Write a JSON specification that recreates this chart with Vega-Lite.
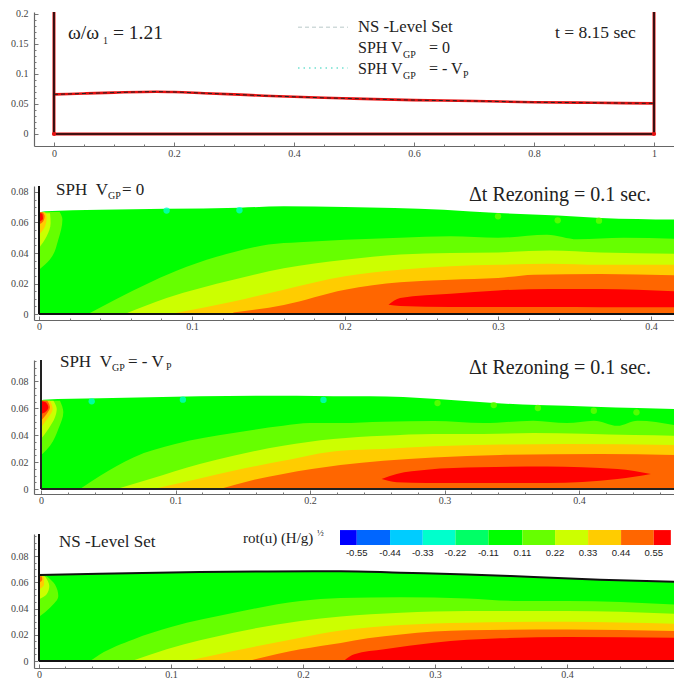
{"$schema":"https://vega.github.io/schema/vega-lite/v6.json","padding":{"left":10,"top":6,"right":0,"bottom":0},"background":"white","bounds":"flush","spacing":40,"config":{"view":{"stroke":null},"axis":{"grid":false,"title":null,"domainColor":"#666","tickColor":"#777","labelColor":"#444","labelFont":"Liberation Serif","labelFontSize":10,"domainWidth":1.2,"tickWidth":1},"text":{"font":"Liberation Serif","align":"left","baseline":"alphabetic","color":"#222"}},
"datasets":{
"curve":[{"x":0,"y":0.066},{"x":0.05,"y":0.0675},{"x":0.1,"y":0.069},{"x":0.17,"y":0.0705},{"x":0.2,"y":0.07},{"x":0.25,"y":0.068},{"x":0.3,"y":0.066},{"x":0.35,"y":0.0638},{"x":0.4,"y":0.062},{"x":0.45,"y":0.0603},{"x":0.5,"y":0.059},{"x":0.6,"y":0.0565},{"x":0.7,"y":0.055},{"x":0.8,"y":0.053},{"x":0.9,"y":0.052},{"x":1,"y":0.051}],
"walls":[{"p":1,"s":"l","x":0,"y":0},{"p":1,"s":"l","x":0,"y":0.2033},{"p":1,"s":"b","x":0,"y":0},{"p":1,"s":"b","x":1,"y":0},{"p":1,"s":"r","x":1,"y":0},{"p":1,"s":"r","x":1,"y":0.2033},
{"p":2,"s":"l","x":0,"y":0},{"p":2,"s":"l","x":0,"y":0.0839},{"p":2,"s":"b","x":0,"y":0},{"p":2,"s":"b","x":0.415,"y":0},
{"p":3,"s":"l","x":0,"y":0},{"p":3,"s":"l","x":0,"y":0.0959},{"p":3,"s":"b","x":0,"y":0},{"p":3,"s":"b","x":0.4706,"y":0},
{"p":4,"s":"l","x":0,"y":0},{"p":4,"s":"l","x":0,"y":0.0968},{"p":4,"s":"b","x":0,"y":0},{"p":4,"s":"b","x":0.481,"y":0}],
"bands":[
{"p":5,"l":-0.6,"x":0.228,"y":0.0998,"y0":0.0884},{"p":5,"l":-0.6,"x":0.2407,"y":0.0998,"y0":0.0884},{"p":5,"l":-0.5,"x":0.2407,"y":0.0998,"y0":0.0884},{"p":5,"l":-0.5,"x":0.2659,"y":0.0998,"y0":0.0884},{"p":5,"l":-0.4,"x":0.2659,"y":0.0998,"y0":0.0884},{"p":5,"l":-0.4,"x":0.2907,"y":0.0998,"y0":0.0884},{"p":5,"l":-0.3,"x":0.2907,"y":0.0998,"y0":0.0884},{"p":5,"l":-0.3,"x":0.3154,"y":0.0998,"y0":0.0884},{"p":5,"l":-0.2,"x":0.3154,"y":0.0998,"y0":0.0884},{"p":5,"l":-0.2,"x":0.3404,"y":0.0998,"y0":0.0884},{"p":5,"l":0,"x":0.3404,"y":0.0998,"y0":0.0884},{"p":5,"l":0,"x":0.3661,"y":0.0998,"y0":0.0884},{"p":5,"l":0.165,"x":0.3661,"y":0.0998,"y0":0.0884},{"p":5,"l":0.165,"x":0.3909,"y":0.0998,"y0":0.0884},{"p":5,"l":0.275,"x":0.3909,"y":0.0998,"y0":0.0884},{"p":5,"l":0.275,"x":0.4159,"y":0.0998,"y0":0.0884},{"p":5,"l":0.385,"x":0.4159,"y":0.0998,"y0":0.0884},{"p":5,"l":0.385,"x":0.4409,"y":0.0998,"y0":0.0884},{"p":5,"l":0.495,"x":0.4409,"y":0.0998,"y0":0.0884},{"p":5,"l":0.495,"x":0.4657,"y":0.0998,"y0":0.0884},{"p":5,"l":0.6,"x":0.4657,"y":0.0998,"y0":0.0884},{"p":5,"l":0.6,"x":0.4786,"y":0.0998,"y0":0.0884},
{"p":2,"l":0,"x":0,"y":0.0665,"y0":0},{"p":2,"l":0,"x":0.004,"y":0.0673,"y0":0},{"p":2,"l":0,"x":0.04,"y":0.0684,"y0":0},{"p":2,"l":0,"x":0.0834,"y":0.069,"y0":0},{"p":2,"l":0,"x":0.131,"y":0.0697,"y0":0},{"p":2,"l":0,"x":0.16,"y":0.0706,"y0":0},{"p":2,"l":0,"x":0.2,"y":0.0702,"y0":0},{"p":2,"l":0,"x":0.2645,"y":0.0684,"y0":0},{"p":2,"l":0,"x":0.3,"y":0.0662,"y0":0},{"p":2,"l":0,"x":0.339,"y":0.0645,"y0":0},{"p":2,"l":0,"x":0.367,"y":0.063,"y0":0},{"p":2,"l":0,"x":0.415,"y":0.0619,"y0":0},
{"p":2,"l":0.165,"x":0.032,"y":0,"y0":0},{"p":2,"l":0.165,"x":0.05,"y":0.0095,"y0":0},{"p":2,"l":0.165,"x":0.0965,"y":0.031,"y0":0},{"p":2,"l":0.165,"x":0.127,"y":0.0405,"y0":0},{"p":2,"l":0.165,"x":0.15,"y":0.0455,"y0":0},{"p":2,"l":0.165,"x":0.17,"y":0.047,"y0":0},{"p":2,"l":0.165,"x":0.2,"y":0.0487,"y0":0},{"p":2,"l":0.165,"x":0.236,"y":0.05,"y0":0},{"p":2,"l":0.165,"x":0.269,"y":0.051,"y0":0},{"p":2,"l":0.165,"x":0.3,"y":0.05,"y0":0},{"p":2,"l":0.165,"x":0.332,"y":0.052,"y0":0},{"p":2,"l":0.165,"x":0.352,"y":0.049,"y0":0},{"p":2,"l":0.165,"x":0.382,"y":0.05,"y0":0},{"p":2,"l":0.165,"x":0.415,"y":0.0494,"y0":0},
{"p":2,"l":0.275,"x":0.056,"y":0,"y0":0},{"p":2,"l":0.275,"x":0.0834,"y":0.0105,"y0":0},{"p":2,"l":0.275,"x":0.127,"y":0.0225,"y0":0},{"p":2,"l":0.275,"x":0.16,"y":0.03,"y0":0},{"p":2,"l":0.275,"x":0.2,"y":0.0356,"y0":0},{"p":2,"l":0.275,"x":0.236,"y":0.039,"y0":0},{"p":2,"l":0.275,"x":0.269,"y":0.04,"y0":0},{"p":2,"l":0.275,"x":0.3,"y":0.0404,"y0":0},{"p":2,"l":0.275,"x":0.334,"y":0.0417,"y0":0},{"p":2,"l":0.275,"x":0.367,"y":0.0404,"y0":0},{"p":2,"l":0.275,"x":0.415,"y":0.0395,"y0":0},
{"p":2,"l":0.385,"x":0.0856,"y":0,"y0":0},{"p":2,"l":0.385,"x":0.127,"y":0.0083,"y0":0},{"p":2,"l":0.385,"x":0.16,"y":0.016,"y0":0},{"p":2,"l":0.385,"x":0.2,"y":0.0247,"y0":0},{"p":2,"l":0.385,"x":0.236,"y":0.029,"y0":0},{"p":2,"l":0.385,"x":0.269,"y":0.0313,"y0":0},{"p":2,"l":0.385,"x":0.3,"y":0.0323,"y0":0},{"p":2,"l":0.385,"x":0.334,"y":0.033,"y0":0},{"p":2,"l":0.385,"x":0.367,"y":0.0323,"y0":0},{"p":2,"l":0.385,"x":0.415,"y":0.0323,"y0":0},
{"p":2,"l":0.495,"x":0.127,"y":0.001,"y0":0},{"p":2,"l":0.495,"x":0.16,"y":0.006,"y0":0},{"p":2,"l":0.495,"x":0.2,"y":0.016,"y0":0},{"p":2,"l":0.495,"x":0.236,"y":0.0208,"y0":0},{"p":2,"l":0.495,"x":0.269,"y":0.0225,"y0":0},{"p":2,"l":0.495,"x":0.3,"y":0.0236,"y0":0},{"p":2,"l":0.495,"x":0.3235,"y":0.0258,"y0":0},{"p":2,"l":0.495,"x":0.367,"y":0.0262,"y0":0},{"p":2,"l":0.495,"x":0.415,"y":0.0254,"y0":0},
{"p":2,"l":0.6,"x":0.2284,"y":0.0061,"y0":0.0061},{"p":2,"l":0.6,"x":0.236,"y":0.0105,"y0":0.0052},{"p":2,"l":0.6,"x":0.269,"y":0.0133,"y0":0.0046},{"p":2,"l":0.6,"x":0.3,"y":0.0155,"y0":0.0046},{"p":2,"l":0.6,"x":0.334,"y":0.0164,"y0":0.0046},{"p":2,"l":0.6,"x":0.367,"y":0.0164,"y0":0.0045},{"p":2,"l":0.6,"x":0.415,"y":0.0149,"y0":0.0045},
{"p":3,"l":0,"x":0,"y":0.066,"y0":0},{"p":3,"l":0,"x":0.0017,"y":0.0664,"y0":0},{"p":3,"l":0,"x":0.044,"y":0.0674,"y0":0},{"p":3,"l":0,"x":0.118,"y":0.0689,"y0":0},{"p":3,"l":0,"x":0.19,"y":0.0694,"y0":0},{"p":3,"l":0,"x":0.2172,"y":0.0689,"y0":0},{"p":3,"l":0,"x":0.2445,"y":0.0689,"y0":0},{"p":3,"l":0,"x":0.2943,"y":0.0669,"y0":0},{"p":3,"l":0,"x":0.3366,"y":0.0639,"y0":0},{"p":3,"l":0,"x":0.369,"y":0.0624,"y0":0},{"p":3,"l":0,"x":0.411,"y":0.0612,"y0":0},{"p":3,"l":0,"x":0.4435,"y":0.0602,"y0":0},{"p":3,"l":0,"x":0.4706,"y":0.0595,"y0":0},
{"p":3,"l":0.165,"x":0.029,"y":0,"y0":0},{"p":3,"l":0.165,"x":0.044,"y":0.0099,"y0":0},{"p":3,"l":0.165,"x":0.0687,"y":0.0235,"y0":0},{"p":3,"l":0.165,"x":0.0998,"y":0.0334,"y0":0},{"p":3,"l":0.165,"x":0.143,"y":0.0416,"y0":0},{"p":3,"l":0.165,"x":0.18,"y":0.047,"y0":0},{"p":3,"l":0.165,"x":0.2,"y":0.049,"y0":0},{"p":3,"l":0.165,"x":0.2226,"y":0.049,"y0":0},{"p":3,"l":0.165,"x":0.2545,"y":0.05,"y0":0},{"p":3,"l":0.165,"x":0.292,"y":0.0505,"y0":0},{"p":3,"l":0.165,"x":0.329,"y":0.049,"y0":0},{"p":3,"l":0.165,"x":0.366,"y":0.0508,"y0":0},{"p":3,"l":0.165,"x":0.391,"y":0.049,"y0":0},{"p":3,"l":0.165,"x":0.411,"y":0.0508,"y0":0},{"p":3,"l":0.165,"x":0.4286,"y":0.047,"y0":0},{"p":3,"l":0.165,"x":0.4435,"y":0.0508,"y0":0},{"p":3,"l":0.165,"x":0.4706,"y":0.0476,"y0":0},
{"p":3,"l":0.275,"x":0.0563,"y":0,"y0":0},{"p":3,"l":0.275,"x":0.081,"y":0.0074,"y0":0},{"p":3,"l":0.275,"x":0.118,"y":0.0186,"y0":0},{"p":3,"l":0.275,"x":0.143,"y":0.0248,"y0":0},{"p":3,"l":0.275,"x":0.18,"y":0.0322,"y0":0},{"p":3,"l":0.275,"x":0.2172,"y":0.0372,"y0":0},{"p":3,"l":0.275,"x":0.2545,"y":0.0396,"y0":0},{"p":3,"l":0.275,"x":0.292,"y":0.0409,"y0":0},{"p":3,"l":0.275,"x":0.329,"y":0.0409,"y0":0},{"p":3,"l":0.275,"x":0.366,"y":0.0416,"y0":0},{"p":3,"l":0.275,"x":0.441,"y":0.0401,"y0":0},{"p":3,"l":0.275,"x":0.4706,"y":0.0396,"y0":0},
{"p":3,"l":0.385,"x":0.0836,"y":0,"y0":0},{"p":3,"l":0.385,"x":0.118,"y":0.0079,"y0":0},{"p":3,"l":0.385,"x":0.143,"y":0.0136,"y0":0},{"p":3,"l":0.385,"x":0.18,"y":0.021,"y0":0},{"p":3,"l":0.385,"x":0.2226,"y":0.0285,"y0":0},{"p":3,"l":0.385,"x":0.2545,"y":0.0297,"y0":0},{"p":3,"l":0.385,"x":0.292,"y":0.0317,"y0":0},{"p":3,"l":0.385,"x":0.3415,"y":0.033,"y0":0},{"p":3,"l":0.385,"x":0.391,"y":0.0335,"y0":0},{"p":3,"l":0.385,"x":0.4706,"y":0.0327,"y0":0},
{"p":3,"l":0.495,"x":0.133,"y":0,"y0":0},{"p":3,"l":0.495,"x":0.1556,"y":0.0062,"y0":0},{"p":3,"l":0.495,"x":0.18,"y":0.0112,"y0":0},{"p":3,"l":0.495,"x":0.2226,"y":0.0178,"y0":0},{"p":3,"l":0.495,"x":0.2545,"y":0.021,"y0":0},{"p":3,"l":0.495,"x":0.292,"y":0.0235,"y0":0},{"p":3,"l":0.495,"x":0.3415,"y":0.0253,"y0":0},{"p":3,"l":0.495,"x":0.416,"y":0.026,"y0":0},{"p":3,"l":0.495,"x":0.4706,"y":0.0253,"y0":0},
{"p":3,"l":0.6,"x":0.2532,"y":0.0074,"y0":0.0074},{"p":3,"l":0.6,"x":0.2644,"y":0.0112,"y0":0.005},{"p":3,"l":0.6,"x":0.2868,"y":0.0144,"y0":0.0045},{"p":3,"l":0.6,"x":0.3266,"y":0.0161,"y0":0.0045},{"p":3,"l":0.6,"x":0.3764,"y":0.0168,"y0":0.0045},{"p":3,"l":0.6,"x":0.4286,"y":0.0149,"y0":0.0074},{"p":3,"l":0.6,"x":0.4535,"y":0.0112,"y0":0.0112},
{"p":4,"l":0,"x":0,"y":0.0655,"y0":0},{"p":4,"l":0,"x":0.046,"y":0.0665,"y0":0},{"p":4,"l":0,"x":0.122,"y":0.0678,"y0":0},{"p":4,"l":0,"x":0.173,"y":0.0683,"y0":0},{"p":4,"l":0,"x":0.2286,"y":0.0685,"y0":0},{"p":4,"l":0,"x":0.274,"y":0.0673,"y0":0},{"p":4,"l":0,"x":0.3244,"y":0.066,"y0":0},{"p":4,"l":0,"x":0.3748,"y":0.064,"y0":0},{"p":4,"l":0,"x":0.425,"y":0.062,"y0":0},{"p":4,"l":0,"x":0.481,"y":0.0604,"y0":0},
{"p":4,"l":0.165,"x":0.0387,"y":0,"y0":0},{"p":4,"l":0.165,"x":0.046,"y":0.005,"y0":0},{"p":4,"l":0.165,"x":0.0714,"y":0.0165,"y0":0},{"p":4,"l":0.165,"x":0.1,"y":0.0259,"y0":0},{"p":4,"l":0.165,"x":0.1476,"y":0.0368,"y0":0},{"p":4,"l":0.165,"x":0.198,"y":0.0457,"y0":0},{"p":4,"l":0.165,"x":0.2286,"y":0.048,"y0":0},{"p":4,"l":0.165,"x":0.274,"y":0.0487,"y0":0},{"p":4,"l":0.165,"x":0.3244,"y":0.0477,"y0":0},{"p":4,"l":0.165,"x":0.365,"y":0.0457,"y0":0},{"p":4,"l":0.165,"x":0.4,"y":0.0457,"y0":0},{"p":4,"l":0.165,"x":0.481,"y":0.0431,"y0":0},
{"p":4,"l":0.275,"x":0.0702,"y":0,"y0":0},{"p":4,"l":0.275,"x":0.0967,"y":0.0089,"y0":0},{"p":4,"l":0.275,"x":0.1472,"y":0.0216,"y0":0},{"p":4,"l":0.275,"x":0.198,"y":0.0305,"y0":0},{"p":4,"l":0.275,"x":0.2286,"y":0.034,"y0":0},{"p":4,"l":0.275,"x":0.274,"y":0.0368,"y0":0},{"p":4,"l":0.275,"x":0.3244,"y":0.0381,"y0":0},{"p":4,"l":0.275,"x":0.4,"y":0.0381,"y0":0},{"p":4,"l":0.275,"x":0.481,"y":0.036,"y0":0},
{"p":4,"l":0.385,"x":0.112,"y":0,"y0":0},{"p":4,"l":0.385,"x":0.1472,"y":0.0076,"y0":0},{"p":4,"l":0.385,"x":0.198,"y":0.0178,"y0":0},{"p":4,"l":0.385,"x":0.2286,"y":0.0232,"y0":0},{"p":4,"l":0.385,"x":0.274,"y":0.0274,"y0":0},{"p":4,"l":0.385,"x":0.3244,"y":0.0292,"y0":0},{"p":4,"l":0.385,"x":0.4,"y":0.03,"y0":0},{"p":4,"l":0.385,"x":0.481,"y":0.0284,"y0":0},
{"p":4,"l":0.495,"x":0.16,"y":0.0005,"y0":0},{"p":4,"l":0.495,"x":0.198,"y":0.0089,"y0":0},{"p":4,"l":0.495,"x":0.2286,"y":0.0138,"y0":0},{"p":4,"l":0.495,"x":0.249,"y":0.0173,"y0":0},{"p":4,"l":0.495,"x":0.274,"y":0.0203,"y0":0},{"p":4,"l":0.495,"x":0.3244,"y":0.0234,"y0":0},{"p":4,"l":0.495,"x":0.4,"y":0.0241,"y0":0},{"p":4,"l":0.495,"x":0.481,"y":0.0228,"y0":0},
{"p":4,"l":0.6,"x":0.2312,"y":0.0005,"y0":0.0005},{"p":4,"l":0.6,"x":0.2388,"y":0.0051,"y0":0.0005},{"p":4,"l":0.6,"x":0.2615,"y":0.0089,"y0":0.0005},{"p":4,"l":0.6,"x":0.299,"y":0.014,"y0":0.0005},{"p":4,"l":0.6,"x":0.3496,"y":0.0173,"y0":0.0005},{"p":4,"l":0.6,"x":0.4,"y":0.0183,"y0":0.0005},{"p":4,"l":0.6,"x":0.481,"y":0.0178,"y0":0.0005}],
"blobs":[
{"p":2,"l":0.165,"x":0,"y":0.029},{"p":2,"l":0.165,"x":0.007,"y":0.0356},{"p":2,"l":0.165,"x":0.0126,"y":0.0487},{"p":2,"l":0.165,"x":0.0153,"y":0.0619},{"p":2,"l":0.165,"x":0.0135,"y":0.0668},
{"p":2,"l":0.275,"x":0,"y":0.0433},{"p":2,"l":0.275,"x":0.005,"y":0.051},{"p":2,"l":0.275,"x":0.0076,"y":0.0597},{"p":2,"l":0.275,"x":0.0072,"y":0.066},
{"p":2,"l":0.385,"x":0,"y":0.052},{"p":2,"l":0.385,"x":0.004,"y":0.0575},{"p":2,"l":0.385,"x":0.005,"y":0.063},{"p":2,"l":0.385,"x":0.004,"y":0.0667},
{"p":2,"l":0.495,"x":0,"y":0.0586},{"p":2,"l":0.495,"x":0.0028,"y":0.0608},{"p":2,"l":0.495,"x":0.0037,"y":0.064},{"p":2,"l":0.495,"x":0.0024,"y":0.0667},
{"p":2,"l":0.6,"x":0,"y":0.0605},{"p":2,"l":0.6,"x":0.0026,"y":0.0625},{"p":2,"l":0.6,"x":0.0022,"y":0.0655},{"p":2,"l":0.6,"x":0,"y":0.0665},
{"p":3,"l":0.165,"x":0.001,"y":0.026},{"p":3,"l":0.165,"x":0.0067,"y":0.0322},{"p":3,"l":0.165,"x":0.0129,"y":0.0446},{"p":3,"l":0.165,"x":0.0166,"y":0.057},{"p":3,"l":0.165,"x":0.0141,"y":0.0657},
{"p":3,"l":0.275,"x":0,"y":0.0372},{"p":3,"l":0.275,"x":0.0055,"y":0.0446},{"p":3,"l":0.275,"x":0.0104,"y":0.0533},{"p":3,"l":0.275,"x":0.0117,"y":0.0595},{"p":3,"l":0.275,"x":0.0092,"y":0.0657},
{"p":3,"l":0.385,"x":0,"y":0.0458},{"p":3,"l":0.385,"x":0.0055,"y":0.0533},{"p":3,"l":0.385,"x":0.0087,"y":0.0595},{"p":3,"l":0.385,"x":0.0067,"y":0.0657},
{"p":3,"l":0.495,"x":0,"y":0.0508},{"p":3,"l":0.495,"x":0.0042,"y":0.0558},{"p":3,"l":0.495,"x":0.0067,"y":0.0607},{"p":3,"l":0.495,"x":0.0047,"y":0.0657},
{"p":3,"l":0.6,"x":0,"y":0.0558},{"p":3,"l":0.6,"x":0.003,"y":0.057},{"p":3,"l":0.6,"x":0.0055,"y":0.0607},{"p":3,"l":0.6,"x":0.0037,"y":0.0644},{"p":3,"l":0.6,"x":0,"y":0.0657},
{"p":4,"l":0.165,"x":0.0008,"y":0.0343},{"p":4,"l":0.165,"x":0.0083,"y":0.0406},{"p":4,"l":0.165,"x":0.0146,"y":0.0495},{"p":4,"l":0.165,"x":0.0121,"y":0.0584},{"p":4,"l":0.165,"x":0.0058,"y":0.0647},
{"p":4,"l":0.275,"x":0,"y":0.047},{"p":4,"l":0.275,"x":0.0058,"y":0.0508},{"p":4,"l":0.275,"x":0.0078,"y":0.0571},{"p":4,"l":0.275,"x":0.0045,"y":0.0647},
{"p":4,"l":0.385,"x":0,"y":0.0546},{"p":4,"l":0.385,"x":0.0038,"y":0.0584},{"p":4,"l":0.385,"x":0.0038,"y":0.0647},
{"p":4,"l":0.495,"x":0,"y":0.0597},{"p":4,"l":0.495,"x":0.0025,"y":0.0622},{"p":4,"l":0.495,"x":0.002,"y":0.0647}],
"spots":[{"p":2,"l":-0.275,"x":0.0834,"y":0.0678},{"p":2,"l":-0.275,"x":0.131,"y":0.068},{"p":2,"l":0.165,"x":0.3,"y":0.064},{"p":2,"l":0.165,"x":0.339,"y":0.0614},{"p":2,"l":0.165,"x":0.366,"y":0.0612},
{"p":3,"l":-0.275,"x":0.0377,"y":0.0652},{"p":3,"l":-0.275,"x":0.1055,"y":0.0664},{"p":3,"l":-0.275,"x":0.21,"y":0.0662},{"p":3,"l":0.165,"x":0.2948,"y":0.0639},{"p":3,"l":0.165,"x":0.3366,"y":0.0624},{"p":3,"l":0.165,"x":0.3694,"y":0.0602},{"p":3,"l":0.165,"x":0.411,"y":0.0582},{"p":3,"l":0.165,"x":0.4427,"y":0.057}],
"labels":[
{"p":1,"k":"big","x":0.0233,"y":0.1583,"t":"ω/ω"},{"p":1,"k":"sub","x":0.0817,"y":0.15,"t":"1"},{"p":1,"k":"big","x":0.0983,"y":0.1583,"t":"= 1.21"},
{"p":1,"k":"t","x":0.835,"y":0.16,"t":"t = 8.15 sec"},{"p":1,"k":"ns","x":0.5067,"y":0.17,"t":"NS -Level Set"},
{"p":1,"k":"mid","x":0.5067,"y":0.135,"t":"SPH V"},{"p":1,"k":"sub","x":0.5817,"y":0.1267,"t":"GP"},{"p":1,"k":"mid","x":0.625,"y":0.135,"t":"= 0"},
{"p":1,"k":"mid","x":0.5067,"y":0.1,"t":"SPH V"},{"p":1,"k":"sub","x":0.5817,"y":0.0917,"t":"GP"},{"p":1,"k":"mid","x":0.625,"y":0.1,"t":"= - V"},{"p":1,"k":"sub","x":0.6817,"y":0.0933,"t":"P"},
{"p":2,"k":"mid","x":0.0111,"y":0.078,"t":"SPH\u00a0\u00a0V"},{"p":2,"k":"sub","x":0.0451,"y":0.0754,"t":"GP"},{"p":2,"k":"mid","x":0.0542,"y":0.078,"t":"= 0"},{"p":2,"k":"big","x":0.281,"y":0.0741,"t":"Δt Rezoning = 0.1 sec."},
{"p":3,"k":"mid","x":0.0141,"y":0.0907,"t":"SPH\u00a0\u00a0V"},{"p":3,"k":"sub","x":0.0528,"y":0.0877,"t":"GP"},{"p":3,"k":"mid","x":0.0647,"y":0.0907,"t":"= - V"},{"p":3,"k":"sub","x":0.0929,"y":0.0885,"t":"P"},{"p":3,"k":"big","x":0.3182,"y":0.0855,"t":"Δt Rezoning = 0.1 sec."},
{"p":4,"k":"mid","x":0.0152,"y":0.0869,"t":"NS -Level Set"},{"p":4,"k":"small","x":0.1545,"y":0.0899,"t":"rot(u) (H/g)"},{"p":4,"k":"sup","x":0.2106,"y":0.0955,"t":"½"},
{"p":4,"k":"bar","x":0.2407,"y":0.08,"t":"-0.55"},{"p":4,"k":"bar","x":0.2659,"y":0.08,"t":"-0.44"},{"p":4,"k":"bar","x":0.2907,"y":0.08,"t":"-0.33"},{"p":4,"k":"bar","x":0.3154,"y":0.08,"t":"-0.22"},{"p":4,"k":"bar","x":0.3404,"y":0.08,"t":"-0.11"},{"p":4,"k":"bar","x":0.3661,"y":0.08,"t":"0.11"},{"p":4,"k":"bar","x":0.3909,"y":0.08,"t":"0.22"},{"p":4,"k":"bar","x":0.4159,"y":0.08,"t":"0.33"},{"p":4,"k":"bar","x":0.4409,"y":0.08,"t":"0.44"},{"p":4,"k":"bar","x":0.4657,"y":0.08,"t":"0.55"}]
},
"vconcat":[
{"width":640,"height":134,"resolve":{"axis":{"x":"independent","y":"independent"}},
"encoding":{"x":{"field":"x","type":"quantitative","scale":{"domain":[-0.0333,1.0333],"nice":false,"zero":false},"axis":null},"y":{"field":"y","type":"quantitative","scale":{"domain":[-0.02,0.2033],"nice":false,"zero":false},"axis":null}},
"layer":[
{"data":{"values":[{"x":0,"y":0}]},"mark":{"type":"point","opacity":0},"encoding":{"x":{"field":"x","type":"quantitative","axis":{"orient":"bottom","values":[0,0.2,0.4,0.6,0.8,1],"format":".1~f","tickSize":-4,"labelPadding":6,"labelFlush":false}},"y":{"field":"y","type":"quantitative","axis":{"orient":"left","values":[0,0.05,0.1,0.15,0.2],"format":".2~f","tickSize":-4,"labelPadding":10}}}},
{"data":{"values":[{"x":0,"y":0}]},"mark":{"type":"point","opacity":0},"encoding":{"x":{"field":"x","type":"quantitative","axis":{"orient":"bottom","values":[0.05,0.1,0.15,0.25,0.3,0.35,0.45,0.5,0.55,0.65,0.7,0.75,0.85,0.9,0.95],"tickSize":-2,"labels":false,"domain":false}},"y":{"field":"y","type":"quantitative","axis":{"orient":"left","values":[0.01,0.02,0.03,0.04,0.06,0.07,0.08,0.09,0.11,0.12,0.13,0.14,0.16,0.17,0.18,0.19],"tickSize":-2,"labels":false,"domain":false}}}},
{"data":{"name":"walls"},"transform":[{"filter":"datum.p==1"}],"mark":{"type":"line","color":"#e01010","strokeWidth":3},"encoding":{"detail":{"field":"s"}}},
{"data":{"name":"curve"},"mark":{"type":"line","color":"#e81010","strokeWidth":2.6,"interpolate":"monotone"}},
{"data":{"name":"walls"},"transform":[{"filter":"datum.p==1"}],"mark":{"type":"line","color":"#111","strokeWidth":1.6},"encoding":{"detail":{"field":"s"}}},
{"data":{"name":"curve"},"mark":{"type":"line","color":"#222","strokeWidth":1,"strokeDash":[4,3],"interpolate":"monotone"}},
{"data":{"values":[{"x":0.4067,"y":0.178},{"x":0.49,"y":0.178}]},"mark":{"type":"line","color":"#b8c8c8","strokeWidth":1,"strokeDash":[4,3]}},
{"data":{"values":[{"x":0.4067,"y":0.11},{"x":0.49,"y":0.11}]},"mark":{"type":"line","color":"#70e0d0","strokeWidth":1.4,"strokeDash":[1.5,4]}},
{"data":{"values":[{"x":0,"y":0},{"x":1,"y":0}]},"mark":{"type":"point","filled":true,"color":"#e81010","size":18,"opacity":1}},
{"data":{"name":"labels"},"transform":[{"filter":"datum.p==1&&datum.k=='big'"}],"mark":{"type":"text","fontSize":19.5},"encoding":{"text":{"field":"t"}}},
{"data":{"name":"labels"},"transform":[{"filter":"datum.p==1&&datum.k=='mid'"}],"mark":{"type":"text","fontSize":16},"encoding":{"text":{"field":"t"}}},
{"data":{"name":"labels"},"transform":[{"filter":"datum.p==1&&datum.k=='ns'"}],"mark":{"type":"text","fontSize":16.7},"encoding":{"text":{"field":"t"}}},
{"data":{"name":"labels"},"transform":[{"filter":"datum.p==1&&datum.k=='t'"}],"mark":{"type":"text","fontSize":17.5},"encoding":{"text":{"field":"t"}}},
{"data":{"name":"labels"},"transform":[{"filter":"datum.p==1&&datum.k=='sub'"}],"mark":{"type":"text","fontSize":10},"encoding":{"text":{"field":"t"}}}
]},
{"width":640,"height":134,"resolve":{"axis":{"x":"independent","y":"independent"}},
"encoding":{"x":{"field":"x","type":"quantitative","scale":{"domain":[-0.00327,0.415],"nice":false,"zero":false},"axis":null},"y":{"field":"y","type":"quantitative","scale":{"domain":[-0.0039,0.0839],"nice":false,"zero":false},"axis":null}},
"layer":[
{"data":{"values":[{"x":0,"y":0}]},"mark":{"type":"point","opacity":0},"encoding":{"x":{"field":"x","type":"quantitative","axis":{"orient":"bottom","values":[0,0.1,0.2,0.3,0.4],"format":".1~f","tickSize":-4,"labelPadding":5,"labelFlush":false}},"y":{"field":"y","type":"quantitative","axis":{"orient":"left","values":[0,0.02,0.04,0.06,0.08],"format":".2~f","tickSize":-4,"labelPadding":10}}}},
{"data":{"values":[{"x":0,"y":0}]},"mark":{"type":"point","opacity":0},"encoding":{"x":{"field":"x","type":"quantitative","axis":{"orient":"bottom","values":[0.02,0.04,0.06,0.08,0.12,0.14,0.16,0.18,0.22,0.24,0.26,0.28,0.32,0.34,0.36,0.38],"tickSize":-2,"labels":false,"domain":false}},"y":{"field":"y","type":"quantitative","axis":{"orient":"left","values":[0.005,0.01,0.015,0.025,0.03,0.035,0.045,0.05,0.055,0.065,0.07,0.075],"tickSize":-2,"labels":false,"domain":false}}}},
{"data":{"name":"bands"},"transform":[{"filter":"datum.p==2"}],"mark":{"type":"area","interpolate":"monotone","opacity":1},"encoding":{"y":{"field":"y","type":"quantitative","stack":null},"y2":{"field":"y0"},"detail":{"field":"l"},"color":{"field":"l","type":"quantitative","scale":{"type":"threshold","domain":[-0.55,-0.44,-0.33,-0.22,-0.11,0.11,0.22,0.33,0.44,0.55],"range":["#0000ff","#0066ff","#00ccff","#00ffcc","#00ff66","#00ff00","#66ff00","#ccff00","#ffcc00","#ff6600","#ff0000"]},"legend":null}}},
{"data":{"name":"blobs"},"transform":[{"filter":"datum.p==2"}],"mark":{"type":"area","orient":"horizontal","interpolate":"monotone"},"encoding":{"x":{"field":"x","type":"quantitative","stack":null},"x2":{"datum":0},"detail":{"field":"l"},"color":{"field":"l","type":"quantitative","scale":{"type":"threshold","domain":[-0.55,-0.44,-0.33,-0.22,-0.11,0.11,0.22,0.33,0.44,0.55],"range":["#0000ff","#0066ff","#00ccff","#00ffcc","#00ff66","#00ff00","#66ff00","#ccff00","#ffcc00","#ff6600","#ff0000"]},"legend":null}}},
{"data":{"name":"spots"},"transform":[{"filter":"datum.p==2"}],"mark":{"type":"circle","size":40,"opacity":0.8},"encoding":{"color":{"field":"l","type":"quantitative","scale":{"type":"threshold","domain":[-0.55,-0.44,-0.33,-0.22,-0.11,0.11,0.22,0.33,0.44,0.55],"range":["#0000ff","#0066ff","#00ccff","#00ffcc","#00ff66","#00ff00","#66ff00","#ccff00","#ffcc00","#ff6600","#ff0000"]},"legend":null}}},
{"data":{"name":"walls"},"transform":[{"filter":"datum.p==2"}],"mark":{"type":"line","color":"#111","strokeWidth":2},"encoding":{"detail":{"field":"s"}}},
{"data":{"name":"labels"},"transform":[{"filter":"datum.p==2&&datum.k=='big'"}],"mark":{"type":"text","fontSize":20},"encoding":{"text":{"field":"t"}}},
{"data":{"name":"labels"},"transform":[{"filter":"datum.p==2&&datum.k=='mid'"}],"mark":{"type":"text","fontSize":17},"encoding":{"text":{"field":"t"}}},
{"data":{"name":"labels"},"transform":[{"filter":"datum.p==2&&datum.k=='sub'"}],"mark":{"type":"text","fontSize":10},"encoding":{"text":{"field":"t"}}}
]},
{"width":640,"height":134,"resolve":{"axis":{"x":"independent","y":"independent"}},
"encoding":{"x":{"field":"x","type":"quantitative","scale":{"domain":[-0.0052,0.4706],"nice":false,"zero":false},"axis":null},"y":{"field":"y","type":"quantitative","scale":{"domain":[-0.0037,0.0959],"nice":false,"zero":false},"axis":null}},
"layer":[
{"data":{"values":[{"x":0,"y":0}]},"mark":{"type":"point","opacity":0},"encoding":{"x":{"field":"x","type":"quantitative","axis":{"orient":"bottom","values":[0,0.1,0.2,0.3,0.4],"format":".1~f","tickSize":-4,"labelPadding":5,"labelFlush":false}},"y":{"field":"y","type":"quantitative","axis":{"orient":"left","values":[0,0.02,0.04,0.06,0.08],"format":".2~f","tickSize":-4,"labelPadding":10}}}},
{"data":{"values":[{"x":0,"y":0}]},"mark":{"type":"point","opacity":0},"encoding":{"x":{"field":"x","type":"quantitative","axis":{"orient":"bottom","values":[0.02,0.04,0.06,0.08,0.12,0.14,0.16,0.18,0.22,0.24,0.26,0.28,0.32,0.34,0.36,0.38,0.42,0.44,0.46],"tickSize":-2,"labels":false,"domain":false}},"y":{"field":"y","type":"quantitative","axis":{"orient":"left","values":[0.005,0.01,0.015,0.025,0.03,0.035,0.045,0.05,0.055,0.065,0.07,0.075,0.085,0.09,0.095],"tickSize":-2,"labels":false,"domain":false}}}},
{"data":{"name":"bands"},"transform":[{"filter":"datum.p==3"}],"mark":{"type":"area","interpolate":"monotone"},"encoding":{"y":{"field":"y","type":"quantitative","stack":null},"y2":{"field":"y0"},"detail":{"field":"l"},"color":{"field":"l","type":"quantitative","scale":{"type":"threshold","domain":[-0.55,-0.44,-0.33,-0.22,-0.11,0.11,0.22,0.33,0.44,0.55],"range":["#0000ff","#0066ff","#00ccff","#00ffcc","#00ff66","#00ff00","#66ff00","#ccff00","#ffcc00","#ff6600","#ff0000"]},"legend":null}}},
{"data":{"name":"blobs"},"transform":[{"filter":"datum.p==3"}],"mark":{"type":"area","orient":"horizontal","interpolate":"monotone"},"encoding":{"x":{"field":"x","type":"quantitative","stack":null},"x2":{"datum":0},"detail":{"field":"l"},"color":{"field":"l","type":"quantitative","scale":{"type":"threshold","domain":[-0.55,-0.44,-0.33,-0.22,-0.11,0.11,0.22,0.33,0.44,0.55],"range":["#0000ff","#0066ff","#00ccff","#00ffcc","#00ff66","#00ff00","#66ff00","#ccff00","#ffcc00","#ff6600","#ff0000"]},"legend":null}}},
{"data":{"name":"spots"},"transform":[{"filter":"datum.p==3"}],"mark":{"type":"circle","size":40,"opacity":0.8},"encoding":{"color":{"field":"l","type":"quantitative","scale":{"type":"threshold","domain":[-0.55,-0.44,-0.33,-0.22,-0.11,0.11,0.22,0.33,0.44,0.55],"range":["#0000ff","#0066ff","#00ccff","#00ffcc","#00ff66","#00ff00","#66ff00","#ccff00","#ffcc00","#ff6600","#ff0000"]},"legend":null}}},
{"data":{"name":"walls"},"transform":[{"filter":"datum.p==3"}],"mark":{"type":"line","color":"#222","strokeWidth":2},"encoding":{"detail":{"field":"s"}}},
{"data":{"name":"labels"},"transform":[{"filter":"datum.p==3&&datum.k=='big'"}],"mark":{"type":"text","fontSize":20},"encoding":{"text":{"field":"t"}}},
{"data":{"name":"labels"},"transform":[{"filter":"datum.p==3&&datum.k=='mid'"}],"mark":{"type":"text","fontSize":17},"encoding":{"text":{"field":"t"}}},
{"data":{"name":"labels"},"transform":[{"filter":"datum.p==3&&datum.k=='sub'"}],"mark":{"type":"text","fontSize":10},"encoding":{"text":{"field":"t"}}}
]},
{"width":640,"height":134,"resolve":{"axis":{"x":"independent","y":"independent"}},
"encoding":{"x":{"field":"x","type":"quantitative","scale":{"domain":[-0.0038,0.481],"nice":false,"zero":false},"axis":null},"y":{"field":"y","type":"quantitative","scale":{"domain":[-0.0053,0.0968],"nice":false,"zero":false},"axis":null}},
"layer":[
{"data":{"values":[{"x":0,"y":0}]},"mark":{"type":"point","opacity":0},"encoding":{"x":{"field":"x","type":"quantitative","axis":{"orient":"bottom","values":[0,0.1,0.2,0.3,0.4],"format":".1~f","tickSize":-4,"labelPadding":5,"labelFlush":false}},"y":{"field":"y","type":"quantitative","axis":{"orient":"left","values":[0,0.02,0.04,0.06,0.08],"format":".2~f","tickSize":-4,"labelPadding":10}}}},
{"data":{"values":[{"x":0,"y":0}]},"mark":{"type":"point","opacity":0},"encoding":{"x":{"field":"x","type":"quantitative","axis":{"orient":"bottom","values":[0.02,0.04,0.06,0.08,0.12,0.14,0.16,0.18,0.22,0.24,0.26,0.28,0.32,0.34,0.36,0.38,0.42,0.44,0.46],"tickSize":-2,"labels":false,"domain":false}},"y":{"field":"y","type":"quantitative","axis":{"orient":"left","values":[0.005,0.01,0.015,0.025,0.03,0.035,0.045,0.05,0.055,0.065,0.07,0.075,0.085,0.09,0.095],"tickSize":-2,"labels":false,"domain":false}}}},
{"data":{"name":"bands"},"transform":[{"filter":"datum.p==4"}],"mark":{"type":"area","interpolate":"monotone"},"encoding":{"y":{"field":"y","type":"quantitative","stack":null},"y2":{"field":"y0"},"detail":{"field":"l"},"color":{"field":"l","type":"quantitative","scale":{"type":"threshold","domain":[-0.55,-0.44,-0.33,-0.22,-0.11,0.11,0.22,0.33,0.44,0.55],"range":["#0000ff","#0066ff","#00ccff","#00ffcc","#00ff66","#00ff00","#66ff00","#ccff00","#ffcc00","#ff6600","#ff0000"]},"legend":null}}},
{"data":{"name":"blobs"},"transform":[{"filter":"datum.p==4"}],"mark":{"type":"area","orient":"horizontal","interpolate":"monotone"},"encoding":{"x":{"field":"x","type":"quantitative","stack":null},"x2":{"datum":0},"detail":{"field":"l"},"color":{"field":"l","type":"quantitative","scale":{"type":"threshold","domain":[-0.55,-0.44,-0.33,-0.22,-0.11,0.11,0.22,0.33,0.44,0.55],"range":["#0000ff","#0066ff","#00ccff","#00ffcc","#00ff66","#00ff00","#66ff00","#ccff00","#ffcc00","#ff6600","#ff0000"]},"legend":null}}},
{"data":{"name":"bands"},"transform":[{"filter":"datum.p==5"}],"mark":{"type":"area"},"encoding":{"y":{"field":"y","type":"quantitative","stack":null},"y2":{"field":"y0"},"detail":{"field":"l"},"color":{"field":"l","type":"quantitative","scale":{"type":"threshold","domain":[-0.55,-0.44,-0.33,-0.22,-0.11,0.11,0.22,0.33,0.44,0.55],"range":["#0000ff","#0066ff","#00ccff","#00ffcc","#00ff66","#00ff00","#66ff00","#ccff00","#ffcc00","#ff6600","#ff0000"]},"legend":null}}},
{"data":{"name":"walls"},"transform":[{"filter":"datum.p==4"}],"mark":{"type":"line","color":"#111","strokeWidth":2},"encoding":{"detail":{"field":"s"}}},
{"data":{"name":"bands"},"transform":[{"filter":"datum.p==4&&datum.l==0"}],"mark":{"type":"line","color":"#111","strokeWidth":2,"interpolate":"monotone"}},
{"data":{"name":"labels"},"transform":[{"filter":"datum.p==4&&datum.k=='bar'"}],"mark":{"type":"text","font":"Liberation Sans","fontSize":9.5,"align":"center"},"encoding":{"text":{"field":"t"}}},
{"data":{"name":"labels"},"transform":[{"filter":"datum.p==4&&datum.k=='mid'"}],"mark":{"type":"text","fontSize":17},"encoding":{"text":{"field":"t"}}},
{"data":{"name":"labels"},"transform":[{"filter":"datum.p==4&&datum.k=='small'"}],"mark":{"type":"text","fontSize":15},"encoding":{"text":{"field":"t"}}},
{"data":{"name":"labels"},"transform":[{"filter":"datum.p==4&&datum.k=='sup'"}],"mark":{"type":"text","fontSize":9},"encoding":{"text":{"field":"t"}}}
]}
]}
